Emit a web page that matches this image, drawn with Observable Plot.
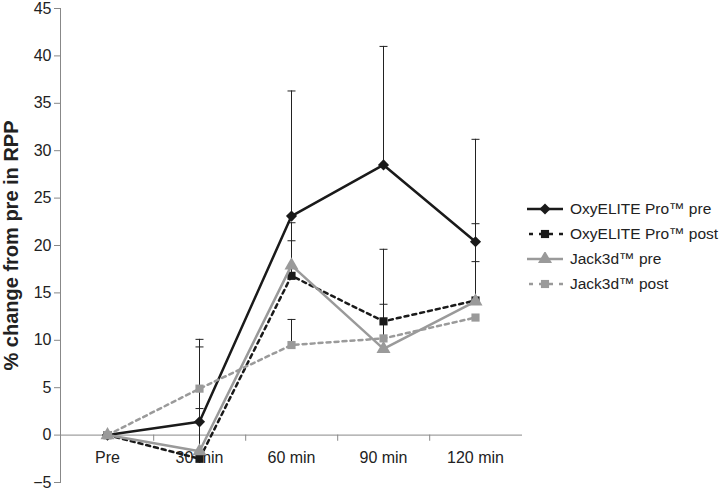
<!DOCTYPE html>
<html>
<head>
<meta charset="utf-8">
<script src="https://cdn.jsdelivr.net/npm/d3@7"></script>
<script src="https://cdn.jsdelivr.net/npm/@observablehq/plot@0.6"></script>
<style>
  html, body { margin: 0; padding: 0; background: #fff; overflow: hidden; }
  #wrap { position: relative; width: 723px; height: 490px; font-family: "Liberation Sans", Arial, sans-serif; overflow: hidden; }
  #legend { position: absolute; left: 527px; top: 196px; font-size: 15.5px; color: #222; white-space: nowrap; width: 260px; }
  .item { display: flex; align-items: center; height: 25px; white-space: nowrap; }
  .item svg { margin-right: 7px; flex: none; }
  g[aria-label="y-axis label"] text { font-weight: bold; font-size: 20px; fill: #222; }
  g[aria-label="y-axis tick"] path { stroke: #888; }
</style>
</head>
<body>
<div id="wrap"><div id="legend"></div></div>
<script>
const categories = ["Pre", "30 min", "60 min", "90 min", "120 min"];
const seriesNames = ["OxyELITE Pro™ pre", "OxyELITE Pro™ post", "Jack3d™ pre", "Jack3d™ post"];
const yTicks = [-5, 0, 5, 10, 15, 20, 25, 30, 35, 40, 45];

const oxyPre = [0, 1.4, 23.1, 28.5, 20.4];
const oxyPreErr = [null, 8.7, 13.2, 12.5, 10.8];
const oxyPost = [0, -2.5, 16.8, 12.0, 14.2];
const oxyPostErr = [null, 5.3, 5.6, 7.6, 8.1];
const jackPre = [0, -1.7, 17.9, 9.1, 14.1];
const jackPreErr = [null, null, 2.6, null, 4.2];
const jackPost = [0, 4.9, 9.5, 10.2, 12.4];
const jackPostErr = [null, 4.4, 2.7, 3.6, null];

const seriesValues = [oxyPre, oxyPost, jackPre, jackPost];
const seriesErrs = [oxyPreErr, oxyPostErr, jackPreErr, jackPostErr];
const styles = [
  {stroke: "#1a1a1a", dash: null, symbol: "diamond2", r: 5},
  {stroke: "#1a1a1a", dash: "4,4", symbol: "square", r: 4.6},
  {stroke: "#9a9a9a", dash: null, symbol: "triangle", r: 5.2},
  {stroke: "#9a9a9a", dash: "4,4", symbol: "square", r: 4.6}
];

const rows = [];
seriesNames.forEach((s, i) => categories.forEach((c, j) => {
  rows.push({series: s, idx: i, cat: c, value: seriesValues[i][j], err: seriesErrs[i][j]});
}));
const errRows = rows.filter(d => d.err != null);

const capSymbol = {draw(ctx, size) { const w = Math.sqrt(size / Math.PI); ctx.moveTo(-w, 0); ctx.lineTo(w, 0); }};

const seriesMarks = [];
seriesNames.forEach((s, i) => {
  const data = rows.filter(d => d.idx === i);
  const st = styles[i];
  seriesMarks.push(Plot.line(data, {x: "cat", y: "value", stroke: st.stroke, strokeWidth: 2.5, strokeDasharray: st.dash}));
  seriesMarks.push(Plot.dot(data, {x: "cat", y: "value", symbol: () => st.symbol, r: st.r, fill: st.stroke, stroke: "none"}));
});

const chart = Plot.plot({
  width: 723,
  height: 490,
  marginLeft: 60,
  marginRight: 201,
  marginTop: 8,
  marginBottom: 8,
  style: {fontFamily: "'Liberation Sans', Arial, sans-serif", fontSize: "16px", color: "#222", background: "#fff"},
  x: {type: "point", domain: categories, padding: 0.5, axis: null},
  y: {domain: [-5, 45]},
  symbol: {type: "identity"},
  marks: [
    Plot.axisY({ticks: yTicks, tickSize: 6, tickPadding: 3, label: "% change from pre in RPP", labelAnchor: "center", labelOffset: 57, labelArrow: "none"}),
    Plot.frame({anchor: "left", stroke: "#888"}),
    Plot.ruleY([0], {stroke: "#888", strokeWidth: 1}),
    Plot.ruleX(categories.slice(0, 4), {x: d => d, y1: 0, y2: -0.65, dx: 46.2, stroke: "#888"}),
    Plot.text(categories, {x: d => d, y: 0, dy: 23, fill: "#222", fontSize: 16}),
    Plot.ruleX(errRows, {x: "cat", y1: "value", y2: d => d.value + d.err, stroke: "#222", strokeWidth: 1}),
    Plot.dot(errRows, {x: "cat", y: d => d.value + d.err, symbol: () => capSymbol, r: 4, stroke: "#222", strokeWidth: 1, fill: "none"}),
    ...seriesMarks
  ]
});
document.getElementById("wrap").prepend(chart);

const legend = document.getElementById("legend");
const symPaths = {
  diamond2: d3.symbol(d3.symbolDiamond2, Math.PI * 25)(),
  square: d3.symbol(d3.symbolSquare, Math.PI * 4.6 * 4.6)(),
  triangle: d3.symbol(d3.symbolTriangle, Math.PI * 5.2 * 5.2)()
};
seriesNames.forEach((s, i) => {
  const st = styles[i];
  const item = document.createElement("div");
  item.className = "item";
  item.innerHTML = `<svg width="36" height="14"><line x1="0" x2="36" y1="7" y2="7" stroke="${st.stroke}" stroke-width="2.5" ${st.dash ? `stroke-dasharray="4,6" stroke-dashoffset="-2"` : ""}/><path transform="translate(18,7)" d="${symPaths[st.symbol]}" fill="${st.stroke}"/></svg><span>${s}</span>`;
  legend.appendChild(item);
});
</script>
</body>
</html>
